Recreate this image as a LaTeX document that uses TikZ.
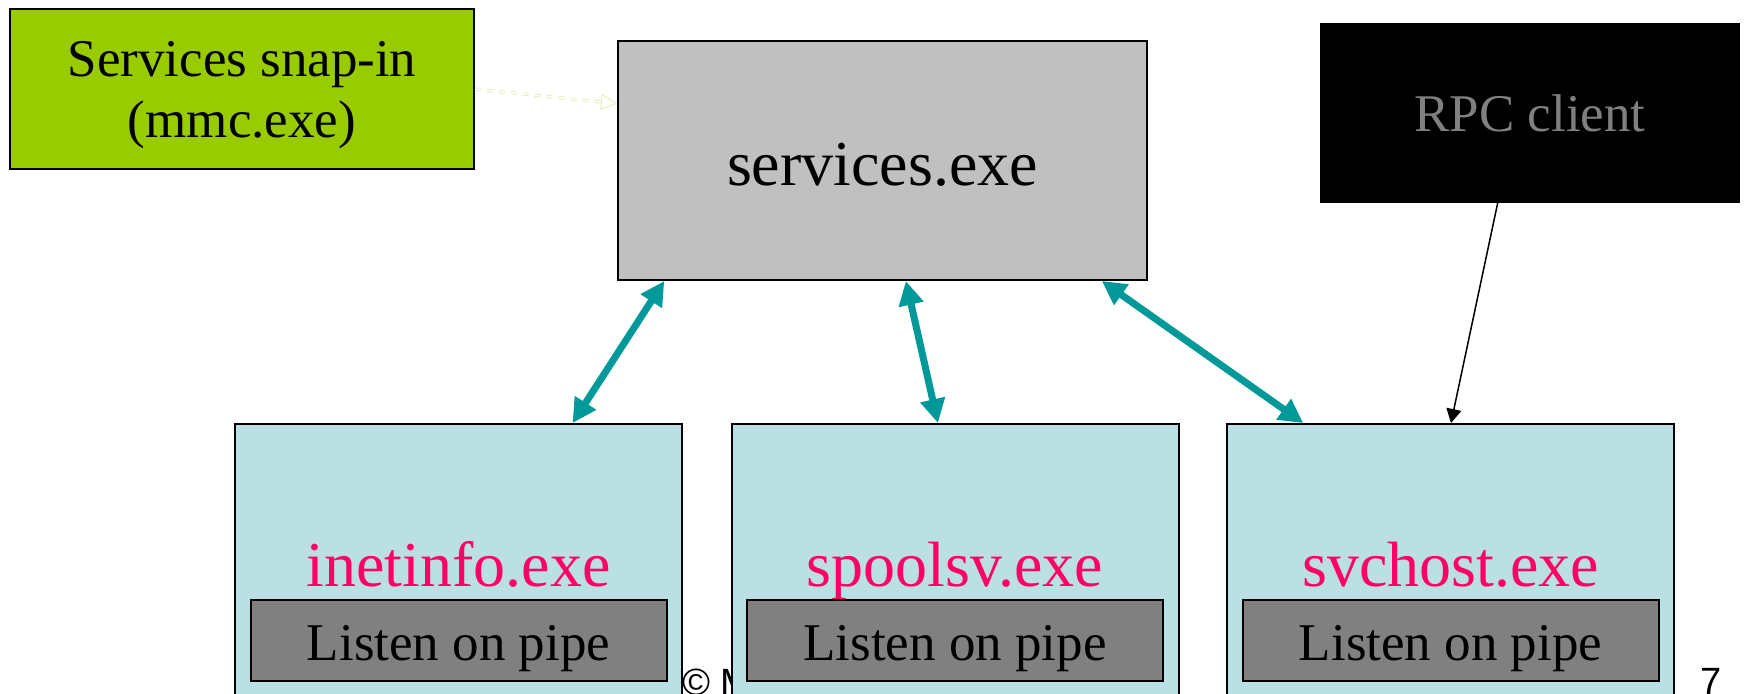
\documentclass[tikz,border=0pt]{standalone}
\usepackage{fontspec}
\setmainfont{Liberation Serif}
\newfontfamily\footfont{Liberation Sans}
\usetikzlibrary{calc,arrows.meta}
\definecolor{lime}{HTML}{99CC00}
\definecolor{silver}{HTML}{C0C0C0}
\definecolor{pale}{HTML}{BBE0E3}
\definecolor{slate}{HTML}{808080}
\definecolor{seagreen}{HTML}{009999}
\definecolor{rose}{HTML}{FF0066}
\definecolor{straw}{HTML}{E2ECAA}

\begin{document}
\begin{tikzpicture}[x=0.5pt, y=-0.5pt,
  box/.style={draw=black, line width=1pt, inner sep=0pt, align=center},
  big/.style={font=\fontsize{32}{36}\selectfont},
  mid/.style={font=\fontsize{26.5}{30.5}\selectfont},
  proc/.style={box, fill=pale, minimum width=223.5pt, minimum height=150pt},
  pipe/.style={box, mid, fill=slate, minimum width=208pt, minimum height=40.5pt,
    text height=25.5pt, text depth=6pt},
  pname/.style={big, anchor=base, text=rose},
  link/.style={seagreen, line width=3.5pt,
    {Triangle[length=12pt,width=12pt]}-{Triangle[length=12pt,width=12pt]}}]
  \useasboundingbox (0,0) rectangle (1744,693);
  \clip (0,0) rectangle (1744,693);

  % Pie di pagina (coperto in parte dai riquadri)
  \node[font=\footfont\fontsize{19}{22}\selectfont, anchor=base west, inner sep=0pt]
    (copy) at (682,695) {© M};
  \node[font=\footfont\fontsize{19}{22}\selectfont, anchor=base west, inner sep=0pt]
    (page) at (1700,694) {7};

  % Riquadri in alto
  \node[box, mid, fill=lime, minimum width=232pt, minimum height=80pt, text depth=0pt]
    (snap) at (242,89) {Services snap-in\\(mmc.exe)};
  \node[box, big, fill=silver, minimum width=264.5pt, minimum height=119.5pt,
    text height=25.3pt, text depth=0pt]
    (svc) at (882.5,160.5) {services.exe};
  \node[box, mid, fill=black, text=slate, minimum width=209pt, minimum height=89pt]
    (rpc) at (1530,113) {RPC client};

  % Processi di servizio
  \node[proc] (inet)  at (458.5,574) {};
  \node[proc] (spool) at (955,574)   {};
  \node[proc] (host)  at (1450.5,574) {};

  \node[pname] (inetT)  at (inet |- 0,586)  {inetinfo.exe};
  \node[pname] (spoolT) at (spool |- 0,586) {spoolsv.exe};
  \node[pname] (hostT)  at (host |- 0,586)  {svchost.exe};

  \node[pipe] (inetP)  at (inet |- 0,640.5)  {Listen on pipe};
  \node[pipe] (spoolP) at (spool |- 0,640.5) {Listen on pipe};
  \node[pipe] (hostP)  at (host |- 0,640.5)  {Listen on pipe};

  % Frecce doppie verso services.exe
  \draw[link] ($(svc.south west)!0.089!(svc.south east)$)
    -- ($(inet.north west)!0.754!(inet.north east)$);
  \draw[link] ($(svc.south west)!0.544!(svc.south east)$)
    -- ($(spool.north west)!0.462!(spool.north east)$);
  \draw[link] ($(svc.south west)!0.913!(svc.south east)$)
    -- ($(host.north west)!0.172!(host.north east)$);

  % Client RPC
  \draw[black, line width=0.75pt, -{Triangle[length=7pt,width=7.5pt]}]
    ($(rpc.south west)!0.423!(rpc.south east)$)
    -- ($(host.north west)!0.501!(host.north east)$);

  % Snap-in (tratteggiata chiara)
  \draw[straw, line width=0.4pt, double, double distance=0.8pt, dashed,
    -{Triangle[open, length=8pt, width=8pt]}]
    (snap.east) -- ($(svc.north west)!0.264!(svc.south west)$);
\end{tikzpicture}
\end{document}
